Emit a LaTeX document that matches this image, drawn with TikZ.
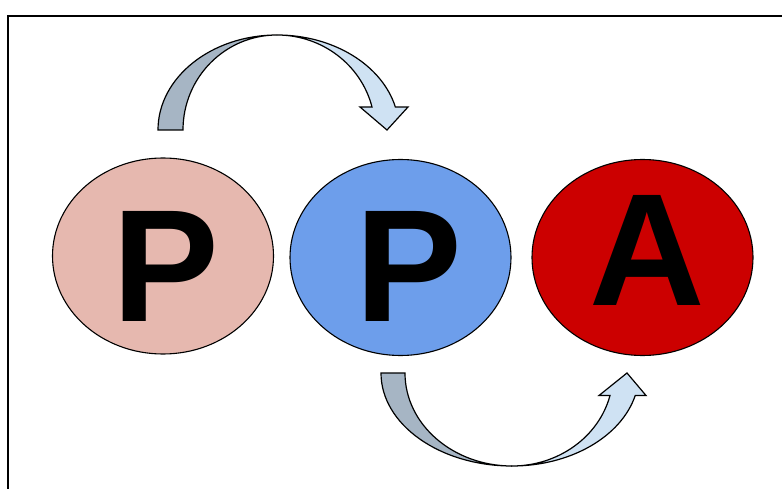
\documentclass[tikz,border=0pt]{standalone}
\usepackage{fontspec}
\setmainfont{Liberation Sans}
\usetikzlibrary{shapes.geometric,calc}

\definecolor{planpink}{RGB}{230,184,175}
\definecolor{planblue}{RGB}{109,158,235}
\definecolor{actred}{RGB}{204,0,0}
\definecolor{arrowdark}{RGB}{166,181,196}
\definecolor{arrowlight}{RGB}{207,226,243}

\begin{document}
\begin{tikzpicture}[x=1pt,y=1pt,
  disc/.style={ellipse,draw,line width=1.1pt,minimum width=221pt,minimum height=196pt,inner sep=0pt},
  letter/.style={inner sep=0pt,font=\fontsize{160}{160}\bfseries\selectfont},
  backpart/.style={draw,fill=arrowdark,line width=1.2pt},
  frontpart/.style={draw,fill=arrowlight,line width=1.2pt}]
\useasboundingbox (0,0) rectangle (782,488);
\clip (0,0) rectangle (782,488);
% frame
\draw[line width=1.2pt] (8,-10) -- (8,472) -- (800,472);
% the three discs
\node [disc,fill=planpink] (p1) at (163,232) {};
\node [disc,fill=planblue] (p2) at (400.5,230.5) {};
\node [disc,fill=actred] (a) at (642.5,230.5) {};
\node [letter] (lp1) at ($(p1)+(2.5,-10.5)$) {P};
\node [letter] (lp2) at ($(p2)+(8,-9)$) {P};
\node [letter] (la) at ($(a)+(5,7)$) {A};
% upper curved arrow
\draw [backpart] (158,358) arc[start angle=180,end angle=90,x radius=119,y radius=95]
  arc[start angle=90,end angle=180,x radius=94,y radius=95] -- cycle;
\draw [frontpart] (277,453) arc[start angle=90,end angle=14,x radius=122,y radius=95]
  -- (408,381) -- (387,358) -- (360,381) -- (372,381)
  arc[start angle=14,end angle=90,x radius=98,y radius=95] -- cycle;
% lower curved arrow
\draw [backpart] (381,115) arc[start angle=180,end angle=270,x radius=131,y radius=93]
  arc[start angle=270,end angle=180,x radius=107,y radius=93] -- cycle;
\draw [frontpart] (512,22) arc[start angle=270,end angle=346,x radius=127,y radius=93]
  -- (646,92.5) -- (627,115) -- (599,92.5) -- (610,92.5)
  arc[start angle=346,end angle=270,x radius=101,y radius=93] -- cycle;
\end{tikzpicture}
\end{document}
